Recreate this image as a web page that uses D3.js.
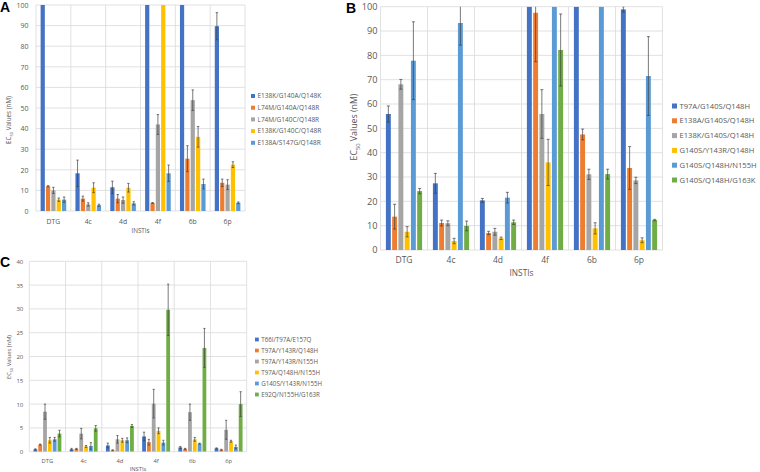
<!DOCTYPE html>
<html><head><meta charset="utf-8">
<script src="https://cdn.jsdelivr.net/npm/d3@7"></script>
<style>body{margin:0;background:#fff}svg{display:block}text{font-family:"Open Sans",sans-serif}</style>
</head><body><svg id="c" width="760" height="472"></svg>
<script>
const categories = ["DTG","4c","4d","4f","6b","6p"];

const seriesA = ["E138K/G140A/Q148K","L74M/G140A/Q148R","L74M/G140C/Q148R","E138K/G140C/Q148R","E138A/S147G/Q148R"];
const valuesA = [
  [100, 18.3, 11.5, 100, 100, 89.7],
  [12.0, 6.0, 6.0, 3.9, 25.4, 13.7],
  [10.0, 3.2, 5.3, 42.0, 53.8, 12.8],
  [5.5, 11.3, 11.3, 100, 36.0, 22.5],
  [5.5, 2.8, 3.7, 18.3, 13.1, 4.0]
];
const errorsA = [
  [0, 6.4, 3.0, 0, 0, 6.6],
  [0.3, 1.2, 2.0, 0.2, 6.3, 1.8],
  [1.5, 0.8, 1.5, 4.8, 5.0, 2.4],
  [0.8, 2.4, 2.1, 0, 5.0, 1.4],
  [1.3, 0.5, 0.8, 4.0, 2.4, 0.4]
];
const ticksA = [0,10,20,30,40,50,60,70,80,90,100];

const seriesB = ["T97A/G140S/Q148H","E138A/G140S/Q148H","E138K/G140S/Q148H","G140S/Y143R/Q148H","G140S/Q148H/N155H","G140S/Q148H/G163K"];
const valuesB = [
  [55.9, 27.4, 20.4, 100, 100, 98.9],
  [13.7, 11.1, 7.0, 97.5, 47.5, 33.7],
  [68.1, 11.0, 7.5, 55.9, 31.1, 28.6],
  [7.5, 3.7, 4.8, 36.0, 8.9, 4.0],
  [77.8, 93.3, 21.5, 100, 100, 71.5],
  [24.2, 9.9, 11.4, 82.2, 31.2, 12.3]
];
const errorsB = [
  [3.3, 4.1, 0.8, 0, 0, 1.1],
  [5.1, 1.2, 0.7, 20.1, 2.2, 8.8],
  [2.0, 1.0, 1.4, 10.0, 2.1, 1.3],
  [2.1, 1.1, 0.5, 9.5, 2.3, 1.0],
  [16.0, 9.1, 2.2, 0, 0, 16.2],
  [1.1, 2.0, 0.9, 14.8, 2.0, 0.3]
];
const ticksB = [0,10,20,30,40,50,60,70,80,90,100];

const seriesC = ["T66I/T97A/E157Q","T97A/Y143R/Q148H","T97A/Y143R/N155H","T97A/Q148H/N155H","G140S/Y143R/N155H","E92Q/N155H/G163R"];
const valuesC = [
  [0.5, 0.5, 1.3, 3.2, 0.9, 0.7],
  [1.5, 0.6, 0.3, 2.0, 0.6, 0.4],
  [8.4, 3.8, 2.6, 10.1, 8.3, 4.6],
  [2.4, 1.1, 2.4, 4.4, 2.6, 2.2],
  [2.6, 1.2, 2.4, 1.9, 1.7, 1.0],
  [3.8, 4.9, 5.4, 29.8, 21.8, 10.0]
];
const errorsC = [
  [0.1, 0.2, 0.5, 0.9, 0.2, 0.1],
  [0.1, 0.1, 0.1, 0.6, 0.1, 0.1],
  [1.6, 1.1, 0.8, 3.0, 1.7, 2.0],
  [0.6, 0.2, 0.4, 0.6, 0.4, 0.2],
  [0.4, 0.7, 0.5, 0.5, 0.1, 0.4],
  [0.7, 0.6, 0.3, 5.4, 4.1, 2.6]
];
const ticksC = [0,5,10,15,20,25,30,35,40];

const colors = ["#4472C4","#ED7D31","#A5A5A5","#FFC000","#5B9BD5","#70AD47"];

const svg = d3.select("#c");

const panels = [
  {letter:"A", lx:0, ly:12, series:seriesA, values:valuesA, errors:errorsA, ticks:ticksA,
   left:36, right:245, top:5, bottom:211, tickFont:7, tickGap:7.5, catFont:6.8, catY:224, xtY:233, xtFont:6.3,
   ytX:11, ytCY:120, ytFont:6.3, legX:251, legY:96, legDy:11.7, legFont:6.5, sq:4, cap:1.2},
  {letter:"B", lx:346, ly:13, series:seriesB, values:valuesB, errors:errorsB, ticks:ticksB,
   left:380.5, right:662.5, top:6.7, bottom:250, tickFont:9.2, tickGap:3, catFont:8.5, catY:262.5, xtY:275.5, xtFont:8.3,
   ytX:357, ytCY:127, ytFont:8.8, legX:672, legY:106, legDy:14.8, legFont:7.6, sq:5, cap:1.5},
  {letter:"C", lx:0, ly:267, series:seriesC, values:valuesC, errors:errorsC, ticks:ticksC,
   left:29.3, right:246.7, top:261.3, bottom:451.7, tickFont:6, tickGap:6, catFont:5.8, catY:462.5, xtY:471, xtFont:5.8,
   ytX:11, ytCY:357, ytFont:5.8, legX:255, legY:339.5, legDy:11, legFont:6.2, sq:3.8, cap:1.1}
];

panels.forEach((p, pi) => {
  const g = svg.append("g");
  const ymax = p.ticks[p.ticks.length-1];
  const y = d3.scaleLinear().domain([0, ymax]).range([p.bottom, p.top]);
  const x = d3.scaleBand().domain(categories).range([p.left, p.right]).paddingInner(0).paddingOuter(0);
  const n = p.series.length;
  const xs = d3.scaleBand().domain(d3.range(n)).range([0, x.bandwidth()])
    .paddingInner(0.2126).paddingOuter(0.862);

  g.selectAll(".hg").data(p.ticks).join("line")
    .attr("x1", p.left).attr("x2", p.right)
    .attr("y1", d => y(d)).attr("y2", d => y(d))
    .attr("stroke", "#d9d9d9").attr("stroke-width", 0.8);
  const bounds = categories.map(c => x(c)).concat([p.right]);
  g.selectAll(".vg").data(bounds).join("line")
    .attr("x1", d => d).attr("x2", d => d)
    .attr("y1", p.top).attr("y2", p.bottom)
    .attr("stroke", "#d9d9d9").attr("stroke-width", 0.8);

  const ax = d3.axisLeft(y).tickValues(p.ticks).tickSize(0).tickPadding(p.tickGap);
  const axg = g.append("g").attr("transform", `translate(${p.left},0)`).call(ax);
  axg.select(".domain").remove();
  axg.selectAll("text").attr("fill", "#595959").style("font-size", p.tickFont + "px")
    .style("font-family", '"Open Sans",sans-serif');

  const bx = d3.axisBottom(x).tickSize(0).tickPadding(0);
  const bxg = g.append("g").attr("transform", `translate(0,${p.catY})`).call(bx);
  bxg.select(".domain").remove();
  bxg.selectAll("text").attr("fill", "#595959").attr("dy", 0).attr("y", 0)
    .style("font-size", p.catFont + "px").style("font-family", '"Open Sans",sans-serif');

  const cid = "clip" + pi;
  svg.append("clipPath").attr("id", cid).append("rect")
    .attr("x", p.left).attr("y", p.top).attr("width", p.right - p.left).attr("height", p.bottom - p.top);
  const plot = g.append("g").attr("clip-path", `url(#${cid})`);

  p.series.forEach((s, si) => {
    const sg = plot.append("g");
    const rows = categories.map((c, ci) => ({c, v: p.values[si][ci], e: p.errors[si][ci]}));
    sg.selectAll("rect").data(rows).join("rect")
      .attr("x", d => x(d.c) + xs(si)).attr("width", xs.bandwidth())
      .attr("y", d => y(d.v)).attr("height", d => p.bottom - y(d.v))
      .attr("fill", colors[si]);
    const eb = rows.filter(d => d.e > 0);
    const cx = d => x(d.c) + xs(si) + xs.bandwidth() / 2;
    sg.selectAll(".ev").data(eb).join("line")
      .attr("x1", cx).attr("x2", cx)
      .attr("y1", d => y(d.v + d.e)).attr("y2", d => y(Math.max(0, d.v - d.e)))
      .attr("stroke", "#404040").attr("stroke-width", 0.7);
    ["up","dn"].forEach(k => {
      sg.selectAll(".c" + k).data(eb).join("line")
        .attr("x1", d => cx(d) - p.cap).attr("x2", d => cx(d) + p.cap)
        .attr("y1", d => y(k === "up" ? d.v + d.e : Math.max(0, d.v - d.e)))
        .attr("y2", d => y(k === "up" ? d.v + d.e : Math.max(0, d.v - d.e)))
        .attr("stroke", "#404040").attr("stroke-width", 0.7);
    });
  });

  g.append("text").attr("x", (p.left + p.right) / 2).attr("y", p.xtY)
    .attr("text-anchor", "middle").attr("fill", "#595959").style("font-size", p.xtFont + "px").text("INSTIs");
  const yt = g.append("text").attr("transform", `translate(${p.ytX},${p.ytCY}) rotate(-90)`)
    .attr("text-anchor", "middle").attr("fill", "#595959").style("font-size", p.ytFont + "px");
  yt.append("tspan").text("EC");
  yt.append("tspan").attr("dy", p.ytFont * 0.3).style("font-size", (p.ytFont * 0.65) + "px").text("50");
  yt.append("tspan").attr("dy", -p.ytFont * 0.3).text(" Values (nM)");

  const lg = g.append("g");
  p.series.forEach((s, si) => {
    const yy = p.legY + si * p.legDy;
    lg.append("rect").attr("x", p.legX).attr("y", yy - p.sq / 2).attr("width", p.sq).attr("height", p.sq).attr("fill", colors[si]);
    lg.append("text").attr("x", p.legX + p.sq + 2.5).attr("y", yy).attr("dy", "0.35em")
      .attr("fill", "#595959").style("font-size", p.legFont + "px").text(s);
  });

  svg.append("text").attr("x", p.lx).attr("y", p.ly).attr("fill", "#000")
    .style("font-family", '"Liberation Sans",Arial,sans-serif').style("font-weight", "bold").style("font-size", "14px").text(p.letter);
});
</script>
</body></html>
